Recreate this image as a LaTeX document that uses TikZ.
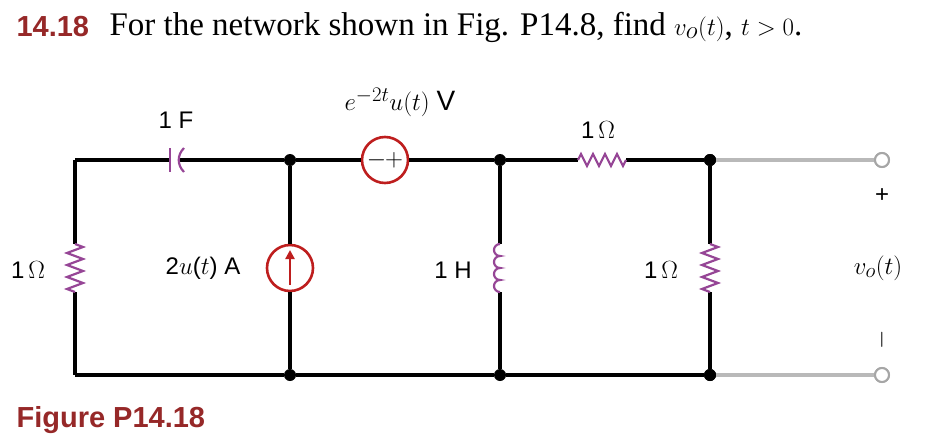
\documentclass[tikz,border=0pt]{standalone}
\usepackage{fontspec}
\setmainfont{Liberation Serif}
\newfontfamily\sans{Liberation Sans}
\usetikzlibrary{decorations.pathmorphing,arrows.meta}
\definecolor{dred}{RGB}{150,40,40}
\definecolor{src}{RGB}{190,30,30}
\definecolor{purp}{RGB}{150,70,150}
\begin{document}
\begin{tikzpicture}[x=1pt,y=-1pt,
  w/.style={line width=4.5pt},
  g/.style={line width=4.5pt,gray!55},
  dot/.style={circle,fill=black,inner sep=0,minimum size=12pt},
  term/.style={circle,draw=gray!70,line width=2pt,fill=white,inner sep=0,minimum size=14pt},
  zz/.style={purp,line width=2.2pt,decorate,decoration={zigzag,segment length=12pt,amplitude=8pt}},
  srcc/.style={circle,draw=src,line width=2.6pt,fill=white,minimum size=46pt,inner sep=0},
  lab/.style={font=\sans\fontsize{24}{24}\selectfont}]
\useasboundingbox (0,0) rectangle (929,439);
\node[anchor=west,font=\sans\bfseries\fontsize{29}{29}\selectfont,text=dred] (num) at (13,27) {14.18};
\node[anchor=west,font=\fontsize{33}{33}\selectfont] (ttl) at (106,27) {For the network shown in Fig. P14.8, find $v_o(t)$, $t>0$.};
\node[anchor=west,font=\sans\bfseries\fontsize{29}{29}\selectfont,text=dred] (fig) at (13,420) {Figure P14.18};
% nodes
\coordinate (tl) at (75,160); \coordinate (bl) at (75,375);
\node[dot] (t1) at (290,160) {}; \node[dot] (b1) at (290,375) {};
\node[dot] (t2) at (500,160) {}; \node[dot] (b2) at (500,375) {};
\node[dot] (t3) at (710,160) {}; \node[dot] (b3) at (710,375) {};
% left resistor
\coordinate (lr1) at (75,244); \coordinate (lr2) at (75,292);
\draw[w] (tl) -- (lr1) (lr2) -- (bl);
\draw[zz] (lr1) -- (lr2);
\node[lab] (l1) at (28,270) {1\,$\Omega$};
% capacitor
\coordinate (c1) at (170,160); \coordinate (c2) at (180,160);
\draw[w] (tl) -- (c1) (c2) -- (t1);
\draw[purp,line width=2.2pt] (170,148) -- (170,172);
\draw[purp,line width=2.2pt] (184,148) .. controls (177,155) and (177,165) .. (184,172);
\node[lab] (lc) at (176,120) {1 F};
% voltage source
\node[srcc] (vs) at (385,160) {\sans\fontsize{24}{24}\selectfont $-$\hspace{-1pt}$+$};
\draw[w] (t1) -- (vs) -- (t2);
\node[font=\fontsize{28}{28}\selectfont] (lv) at (400,102) {$e^{-2t}u(t)$ \sans V};
% current source
\node[srcc] (cs) at (290,268) {};
\draw[w] (t1) -- (cs) -- (b1);
\draw[src,line width=2.6pt,-{Triangle[length=9pt,width=9pt]}] (290,285) -- (290,250);
\node[lab] (li) at (203,268) {2$u$($t$) A};
% inductor
\coordinate (i1) at (500,244); \coordinate (i2) at (500,292);
\draw[w] (t2) -- (i1) (i2) -- (b2);
\draw[purp,line width=2.2pt] (i1) arc[start angle=90,end angle=270,radius=6pt]
  arc[start angle=90,end angle=270,radius=6pt] arc[start angle=90,end angle=270,radius=6pt]
  arc[start angle=90,end angle=270,radius=6pt];
\node[lab] (lh) at (453,270) {1 H};
% top resistor
\coordinate (r1) at (578,160); \coordinate (r2) at (626,160);
\draw[w] (t2) -- (r1) (r2) -- (t3);
\draw[zz,decoration={zigzag,segment length=12pt,amplitude=6pt}] (r1) -- (r2);
\node[lab] (lr) at (598,130) {1\,$\Omega$};
% right resistor
\coordinate (q1) at (710,244); \coordinate (q2) at (710,292);
\draw[w] (t3) -- (q1) (q2) -- (b3);
\draw[zz] (q1) -- (q2);
\node[lab] (lq) at (661,270) {1\,$\Omega$};
% bottom
\draw[w] (bl) -- (b1) -- (b2) -- (b3);
\node[term] (ot) at (882,160) {}; \node[term] (ob) at (882,375) {};
\draw[g] (t3) -- (ot); \draw[g] (b3) -- (ob);
\node[term] at (882,160) {}; \node[term] at (882,375) {};
\node[dot] at (710,160) {}; \node[dot] at (710,375) {};
\node[lab] (pl) at (882,196) {+};
\node[font=\fontsize{30}{30}\selectfont] (vo) at (878,268) {$v_o(t)$};
\node[lab,rotate=90] (mi) at (882,340) {$-$};
\end{tikzpicture}
\end{document}
